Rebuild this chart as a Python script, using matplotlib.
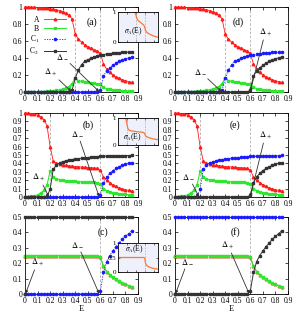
import matplotlib
matplotlib.use('Agg')
import matplotlib.pyplot as plt
from matplotlib.ticker import FuncFormatter, MultipleLocator

plt.rcParams['font.family'] = ['Liberation Serif', 'DejaVu Serif']
plt.rcParams['mathtext.fontset'] = 'stix'

# energy grid shared by rows 1 and 2
E = [0.0, 0.025, 0.05, 0.075, 0.1, 0.125, 0.15, 0.175, 0.2, 0.225, 0.25, 0.275,
     0.3, 0.325, 0.35, 0.375, 0.4, 0.425, 0.45, 0.475, 0.5, 0.525, 0.55, 0.575,
     0.6, 0.625, 0.65, 0.675, 0.7, 0.725, 0.75, 0.775, 0.8, 0.825, 0.85]
# row 3 repeats E=0 so the jump of the constant branch is vertical
E3 = [0.0, 0.0, 0.025, 0.05, 0.075, 0.1, 0.125, 0.15, 0.175, 0.2, 0.225, 0.25, 0.275,
      0.3, 0.325, 0.35, 0.375, 0.4, 0.425, 0.45, 0.475, 0.5, 0.525, 0.55, 0.575,
      0.6, 0.625, 0.65, 0.675, 0.7, 0.725, 0.75, 0.775, 0.8, 0.825, 0.85]

# row 1 (panels a, d)
A1 = [1.0, 1.0, 0.998, 0.996, 0.994, 0.991, 0.988, 0.984, 0.979, 0.973, 0.966, 0.957,
      0.945, 0.928, 0.905, 0.86, 0.68, 0.625, 0.585, 0.555, 0.535, 0.515, 0.5, 0.48,
      0.455, 0.33, 0.27, 0.23, 0.2, 0.178, 0.16, 0.145, 0.133, 0.122, 0.112]
B1 = [0.0, 0.0, 0.0, 0.001, 0.002, 0.003, 0.004, 0.006, 0.009, 0.013, 0.018, 0.025,
      0.034, 0.046, 0.064, 0.1, 0.165, 0.135, 0.125, 0.118, 0.112, 0.107, 0.102, 0.097,
      0.09, 0.055, 0.04, 0.032, 0.026, 0.022, 0.019, 0.016, 0.014, 0.012, 0.011]
EARLY1 = [0.0, 0.0, 0.0, 0.0, 0.0, 0.0, 0.0, 0.0, 0.0, 0.0, 0.0, 0.0,
          0.0, 0.0, 0.0, 0.02, 0.16, 0.26, 0.32, 0.36, 0.38, 0.395, 0.41, 0.42,
          0.43, 0.44, 0.445, 0.45, 0.455, 0.46, 0.462, 0.465, 0.467, 0.469, 0.47]
LATE1 = [0.0, 0.0, 0.0, 0.0, 0.0, 0.0, 0.0, 0.0, 0.0, 0.0, 0.0, 0.0,
         0.0, 0.0, 0.0, 0.0, 0.0, 0.0, 0.0, 0.0, 0.0, 0.0, 0.0, 0.0,
         0.02, 0.19, 0.245, 0.285, 0.315, 0.34, 0.36, 0.376, 0.39, 0.402, 0.412]

# row 2 (panels b, e)
A2 = [1.0, 0.998, 0.994, 0.987, 0.975, 0.955, 0.92, 0.85, 0.6, 0.43, 0.405, 0.39,
      0.382, 0.376, 0.371, 0.367, 0.363, 0.36, 0.357, 0.354, 0.351, 0.348, 0.345, 0.34,
      0.32, 0.24, 0.2, 0.17, 0.145, 0.126, 0.11, 0.097, 0.087, 0.078, 0.072]
B2 = [0.0, 0.002, 0.006, 0.013, 0.025, 0.045, 0.08, 0.14, 0.31, 0.24, 0.215, 0.205,
      0.198, 0.193, 0.19, 0.187, 0.185, 0.183, 0.181, 0.179, 0.177, 0.175, 0.173, 0.17,
      0.16, 0.1, 0.075, 0.06, 0.05, 0.043, 0.038, 0.034, 0.031, 0.028, 0.026]
EARLY2 = [0.0, 0.0, 0.0, 0.0, 0.0, 0.0, 0.0, 0.01, 0.09, 0.33, 0.38, 0.405,
          0.42, 0.43, 0.44, 0.446, 0.452, 0.457, 0.462, 0.466, 0.47, 0.474, 0.477, 0.48,
          0.483, 0.485, 0.487, 0.488, 0.489, 0.49, 0.491, 0.492, 0.493, 0.494, 0.495]
LATE2 = [0.0, 0.0, 0.0, 0.0, 0.0, 0.0, 0.0, 0.0, 0.0, 0.0, 0.0, 0.0,
         0.0, 0.0, 0.0, 0.0, 0.0, 0.0, 0.0, 0.0, 0.0, 0.0, 0.0, 0.0,
         0.02, 0.17, 0.24, 0.28, 0.315, 0.34, 0.36, 0.376, 0.39, 0.4, 0.41]

# row 3 (panels c, f); A and B coincide here
A3 = [0.25, 0.25, 0.25, 0.25, 0.25, 0.25, 0.25, 0.25, 0.25, 0.25, 0.25, 0.25, 0.25,
      0.25, 0.25, 0.25, 0.25, 0.25, 0.25, 0.25, 0.25, 0.25, 0.25, 0.25, 0.25,
      0.24, 0.18, 0.145, 0.125, 0.11, 0.096, 0.085, 0.072, 0.063, 0.054, 0.045]
B3 = [0.25, 0.25, 0.25, 0.25, 0.25, 0.25, 0.25, 0.25, 0.25, 0.25, 0.25, 0.25, 0.25,
      0.25, 0.25, 0.25, 0.25, 0.25, 0.25, 0.25, 0.25, 0.25, 0.25, 0.25, 0.25,
      0.24, 0.18, 0.145, 0.125, 0.11, 0.096, 0.085, 0.072, 0.063, 0.054, 0.045]
FLAT3 = [0.0, 0.5, 0.5, 0.5, 0.5, 0.5, 0.5, 0.5, 0.5, 0.5, 0.5, 0.5, 0.5,
         0.5, 0.5, 0.5, 0.5, 0.5, 0.5, 0.5, 0.5, 0.5, 0.5, 0.5, 0.5,
         0.5, 0.5, 0.5, 0.5, 0.5, 0.5, 0.5, 0.5, 0.5, 0.5, 0.5]
LATE3 = [0.0, 0.0, 0.0, 0.0, 0.0, 0.0, 0.0, 0.0, 0.0, 0.0, 0.0, 0.0, 0.0,
         0.0, 0.0, 0.0, 0.0, 0.0, 0.0, 0.0, 0.0, 0.0, 0.0, 0.0, 0.0,
         0.02, 0.14, 0.21, 0.25, 0.28, 0.308, 0.33, 0.356, 0.374, 0.392, 0.41]

# inset curves sigma_A(E)
SIG_E = [0.0, 0.1, 0.15, 0.18, 0.2, 0.22, 0.25, 0.3, 0.35, 0.38, 0.4, 0.42, 0.45,
         0.5, 0.55, 0.58, 0.6, 0.62, 0.65, 0.7, 0.8, 0.9]
SIG1 = [1.0, 1.0, 1.0, 1.0, 1.0, 1.0, 1.0, 1.0, 1.0, 0.99, 0.92, 0.8, 0.72,
        0.66, 0.6, 0.56, 0.5, 0.38, 0.32, 0.27, 0.2, 0.16]
SIG2 = [1.0, 1.0, 0.99, 0.95, 0.8, 0.62, 0.55, 0.52, 0.51, 0.5, 0.5, 0.49, 0.49,
        0.48, 0.47, 0.46, 0.42, 0.34, 0.3, 0.27, 0.22, 0.2]
SIG3 = [0.5, 0.5, 0.5, 0.5, 0.5, 0.5, 0.5, 0.5, 0.5, 0.5, 0.5, 0.5, 0.5,
        0.5, 0.5, 0.5, 0.48, 0.3, 0.22, 0.17, 0.12, 0.1]

RED, GREEN, BLUE, BLACK = '#ff1a1a', '#2ee62e', '#1a1aff', '#333333'
ORANGE = '#ff7733'
W, H = 300, 315


def frame(px_left, px_top, px_w, px_h):
    return [px_left / W, 1 - (px_top + px_h) / H, px_w / W, px_h / H]


def style_axes(ax, ymax, ystep, fs=5.5):
    ax.set_xlim(0, 0.9)
    ax.set_ylim(0, ymax)
    ax.xaxis.set_major_locator(MultipleLocator(0.1))
    ax.yaxis.set_major_locator(MultipleLocator(ystep))
    fmt = FuncFormatter(lambda v, p: f'{round(v, 2):g}')
    ax.xaxis.set_major_formatter(fmt)
    ax.yaxis.set_major_formatter(fmt)
    ax.tick_params(direction='in', length=2, width=0.5, labelsize=fs, pad=2,
                   top=True, right=True)
    for s in ax.spines.values():
        s.set_linewidth(0.6)


def draw_panel(ax, e, a, b, c1, c2, vlines, ymax, ystep, tag, tagpos, notes):
    for v in vlines:
        ax.axvline(v, color='#b0b0b0', lw=0.6, ls=(0, (3, 2)), zorder=1)
    ax.plot(e, a, color=RED, marker='^', ms=1.8, lw=0.6, label='A', clip_on=False, zorder=3)
    ax.plot(e, b, color=GREEN, marker='s', ms=1.6, lw=0.8, label='B', clip_on=False, zorder=4)
    ax.plot(e, c1, color=BLUE, marker='o', ms=1.6, lw=0.6, ls=(0, (1.5, 1.5)),
            label='C$_1$', clip_on=False, zorder=5)
    ax.plot(e, c2, color=BLACK, marker='s', ms=1.6, lw=0.7, label='C$_2$',
            clip_on=False, zorder=6)
    style_axes(ax, ymax, ystep)
    ax.text(tagpos[0], tagpos[1], tag, fontsize=7, ha='center', va='center')
    for label, txt, tip in notes:
        ax.annotate(label, xy=tip, xytext=txt, fontsize=6, ha='center', va='center',
                    arrowprops=dict(arrowstyle='-|>', color='#333333', lw=0.6,
                                    mutation_scale=4, shrinkA=0, shrinkB=0), zorder=7)


def draw_inset(box, sig, vlines, yticks, label_xy):
    ins = fig.add_axes(frame(*box), facecolor='#eef0fb')
    for v in vlines:
        ins.axvline(v, color='#b8b8b8', lw=0.6, ls=(0, (2, 1.5)))
    ins.plot(SIG_E, sig, color=ORANGE, lw=0.9)
    ins.set_xlim(0, 0.9)
    ins.set_ylim(0, 1)
    ins.set_yticks(yticks)
    ins.set_yticklabels([f'{t:g}' for t in yticks])
    ins.set_xticks([0.2, 0.4, 0.6, 0.8])
    ins.set_xticklabels([])
    ins.tick_params(direction='in', length=1.5, width=0.4, labelsize=5, pad=1.5,
                    top=True, right=True)
    for s in ins.spines.values():
        s.set_linewidth(0.6)
    ins.text(label_xy[0], label_xy[1], r'$\sigma_A$(E)', transform=ins.transAxes,
             fontsize=5.5, ha='center', va='center')


fig = plt.figure(figsize=(W / 100, H / 100), dpi=100)

ax_a = fig.add_axes(frame(25, 7, 113, 85))
ax_d = fig.add_axes(frame(175, 7, 113, 85))
ax_b = fig.add_axes(frame(25, 113, 113, 84))
ax_e = fig.add_axes(frame(175, 113, 113, 84))
ax_c = fig.add_axes(frame(25, 217, 113, 77))
ax_f = fig.add_axes(frame(175, 217, 113, 77))

dp, dm = r'$\Delta_+$', r'$\Delta_-$'

draw_panel(ax_a, E, A1, B1, LATE1, EARLY1, [0.4, 0.6], 1.0, 0.2, '(a)', (0.53, 0.82),
           [(dp, (0.2, 0.24), (0.37, 0.005)), (dm, (0.3, 0.42), (0.59, 0.005))])
draw_panel(ax_d, E, A1, B1, EARLY1, LATE1, [0.4, 0.6], 1.0, 0.2, '(d)', (0.5, 0.82),
           [(dm, (0.2, 0.24), (0.37, 0.005)), (dp, (0.72, 0.71), (0.6, 0.01))])
draw_panel(ax_b, E, A2, B2, LATE2, EARLY2, [0.2, 0.6], 1.0, 0.1, '(b)', (0.5, 0.86),
           [(dp, (0.11, 0.24), (0.19, 0.005)), (dm, (0.42, 0.75), (0.59, 0.005))])
draw_panel(ax_e, E, A2, B2, EARLY2, LATE2, [0.2, 0.6], 1.0, 0.1, '(e)', (0.48, 0.86),
           [(dm, (0.11, 0.24), (0.19, 0.005)), (dp, (0.72, 0.74), (0.6, 0.005))])
draw_panel(ax_c, E3, A3, B3, LATE3, FLAT3, [0.6], 0.5, 0.1, '(c)', (0.62, 0.4),
           [(dp, (0.1, 0.21), (0.005, 0.003)), (dm, (0.42, 0.32), (0.59, 0.003))])
draw_panel(ax_f, E3, A3, B3, FLAT3, LATE3, [0.6], 0.5, 0.1, '(f)', (0.48, 0.4),
           [(dm, (0.1, 0.21), (0.005, 0.003)), (dp, (0.42, 0.32), (0.59, 0.003))])

ax_a.legend(loc='upper left', bbox_to_anchor=(-0.01, 0.96), frameon=False, fontsize=5.5,
            markerfirst=False, handlelength=3.0, labelspacing=0.12, handletextpad=0.6,
            borderpad=0.2)

for ax in (ax_c, ax_f):
    ax.set_xlabel('E', fontsize=6, labelpad=0.5)

draw_inset((118, 12, 40, 30), SIG1, [0.4, 0.6], [0, 1], (0.38, 0.35))
draw_inset((118, 118, 40, 27), SIG2, [0.2, 0.6], [0, 1], (0.35, 0.3))
draw_inset((118, 243, 40, 29), SIG3, [0.6], [0, 0.5, 1], (0.42, 0.78))

fig.savefig('out.png', dpi=100)
